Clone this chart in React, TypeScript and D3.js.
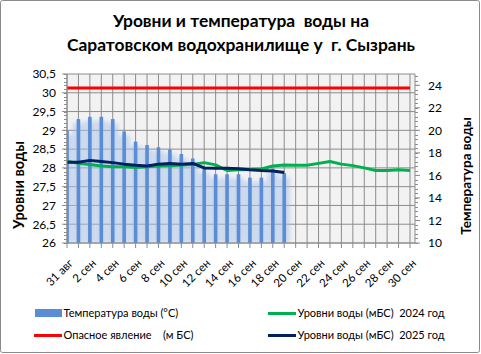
import React from "react";
import * as d3 from "d3";

const categories: string[] = [
  "31 авг", "1 сен", "2 сен", "3 сен", "4 сен", "5 сен", "6 сен", "7 сен", "8 сен", "9 сен",
  "10 сен", "11 сен", "12 сен", "13 сен", "14 сен", "15 сен", "16 сен", "17 сен", "18 сен", "19 сен",
  "20 сен", "21 сен", "22 сен", "23 сен", "24 сен", "25 сен", "26 сен", "27 сен", "28 сен", "29 сен", "30 сен",
];

const temperature: number[] = [
  20.0, 21.0, 21.2, 21.2, 21.0, 19.9, 19.0, 18.7, 18.5, 18.3,
  17.9, 17.5, 16.6, 16.1, 16.1, 16.1, 15.8, 15.8, 16.6, 16.2,
];

const level2024: number[] = [
  28.18, 28.12, 28.09, 28.05, 28.03, 28.03, 28.01, 28.03, 28.05, 28.06,
  28.08, 28.09, 28.14, 28.08, 27.93, 27.95, 27.96, 27.97, 28.05, 28.08,
  28.07, 28.07, 28.12, 28.17, 28.10, 28.06, 28.00, 27.93, 27.93, 27.95, 27.93,
];

const level2025: number[] = [
  28.15, 28.15, 28.20, 28.17, 28.14, 28.10, 28.07, 28.05, 28.10, 28.12,
  28.10, 28.12, 28.00, 27.99, 27.99, 27.98, 27.95, 27.93, 27.92, 27.88,
];

const dangerLevel: number[] = categories.map(() => 30.13);

const leftTicks: number[] = [26, 26.5, 27, 27.5, 28, 28.5, 29, 29.5, 30, 30.5];
const rightTicks: number[] = [10, 12, 14, 16, 18, 20, 22, 24];

const titleLines: string[] = [
  "Уровни и температура  воды на",
  "Саратовском водохранилище у  г. Сызрань",
];
const leftTitle = "Уровни воды";
const rightTitle = "Температура воды";
const legendLabels: string[] = [
  "Температура воды (°С)",
  "Опасное явление    (м БС)",
  "Уровни воды (мБС)  2024 год",
  "Уровни воды (мБС)  2025 год",
];

const FONT = "Lato, 'Open Sans', sans-serif";
const BAR = "#5A8DD6";
const GREEN = "#00B050";
const NAVY = "#002060";
const RED = "#FF0000";
const GRID = "#8C8C8C";

export default function App() {
  const W = 481, H = 354;
  const left = 67, right = 415, top = 74, bottom = 243;
  const x = d3.scalePoint<string>().domain(categories).range([left, 410]);
  const yL = d3.scaleLinear().domain([26, 30.5]).range([bottom, top]);
  const yR = d3.scaleLinear().domain([10, 25]).range([bottom, top]);

  const lineL = d3
    .line<number>()
    .x((_, i) => x(categories[i]) as number)
    .y((d) => yL(d))
    .curve(d3.curveLinear);

  const leftMinor = d3.range(26, 30.5001, 0.1);
  const rightMinor = d3.range(10, 25.0001, 0.4);

  return (
    <svg
      width={W}
      height={H}
      style={{ position: "absolute", left: 0, top: 0, display: "block", background: "#fff" }}
      fontFamily={FONT}
    >
      <defs>
        <filter id="glow" x="-200%" y="-20%" width="500%" height="140%">
          <feGaussianBlur stdDeviation="2" />
        </filter>
        <clipPath id="plotClip">
          <rect x={left} y={top - 2} width={right - left} height={bottom - top + 2} />
        </clipPath>
      </defs>
      <rect x={0.5} y={0.5} width={W - 2} height={H - 2} fill="#fff" stroke="#8a8a8a" rx={2} />

      {/* Title */}
      {titleLines.map((t, i) => (
        <text
          key={i}
          x={241}
          y={27 + i * 24}
          textAnchor="middle"
          fontSize={17.4}
          fontWeight={700}
          fill="#000"
          style={{ whiteSpace: "pre" }}
        >
          {t}
        </text>
      ))}

      {/* Plot background */}
      <rect x={left} y={top} width={right - left} height={bottom - top} fill="#F2F2F2" />

      {/* vertical gridlines */}
      {categories.map((c) => (
        <line key={"vg" + c} x1={x(c)} x2={x(c)} y1={top} y2={bottom} stroke={GRID} strokeWidth={1} />
      ))}
      {/* horizontal gridlines */}
      {leftTicks.map((t) => (
        <line key={"hg" + t} x1={left} x2={right} y1={yL(t)} y2={yL(t)} stroke={GRID} strokeWidth={1} />
      ))}

      {/* Bars */}
      <g clipPath="url(#plotClip)">
        {temperature.map((v, i) => {
          const cx = x(categories[i]) as number;
          const yt = yR(v);
          return (
            <g key={"b" + i}>
              <rect
                x={cx - 5.5}
                y={yt + 4}
                width={11}
                height={bottom - yt - 4}
                fill="#A8C1E8"
                opacity={0.6}
                filter="url(#glow)"
              />
              <rect x={cx - 1.8} y={yt} width={3.6} height={bottom - yt} fill={BAR} />
            </g>
          );
        })}
      </g>

      {/* Lines */}
      <path d={lineL(dangerLevel) || ""} fill="none" stroke={RED} strokeWidth={3} />
      <path d={lineL(level2024) || ""} fill="none" stroke={GREEN} strokeWidth={3} strokeLinejoin="round" />
      <path d={lineL(level2025) || ""} fill="none" stroke={NAVY} strokeWidth={3} strokeLinejoin="round" />

      {/* Axes lines */}
      <line x1={left} x2={left} y1={top} y2={bottom + 0.5} stroke={GRID} />
      <line x1={right} x2={right} y1={top} y2={bottom + 0.5} stroke={GRID} />
      <line x1={left} x2={right} y1={bottom} y2={bottom} stroke={GRID} />

      {/* left ticks */}
      {leftMinor.map((t, i) => (
        <line key={"lm" + i} x1={left - 3} x2={left} y1={Math.round(yL(t)) + 0.5} y2={Math.round(yL(t)) + 0.5} stroke={GRID} />
      ))}
      {leftTicks.map((t) => (
        <line key={"lt" + t} x1={left - 5} x2={left} y1={yL(t)} y2={yL(t)} stroke={GRID} />
      ))}
      {leftTicks.map((t) => (
        <text key={"ll" + t} x={56} y={yL(t)} dy="0.36em" textAnchor="end" fontSize={12} fill="#000">
          {String(t).replace(".", ",")}
        </text>
      ))}

      {/* right ticks */}
      {rightMinor.map((t, i) => (
        <line key={"rm" + i} x1={right} x2={right + 3} y1={Math.round(yR(t)) + 0.5} y2={Math.round(yR(t)) + 0.5} stroke={GRID} />
      ))}
      {rightTicks.map((t) => (
        <line key={"rt" + t} x1={right} x2={right + 5} y1={yR(t)} y2={yR(t)} stroke={GRID} />
      ))}
      {rightTicks.map((t) => (
        <text key={"rl" + t} x={428} y={yR(t)} dy="0.36em" textAnchor="start" fontSize={12} fill="#000">
          {t}
        </text>
      ))}

      {/* x ticks */}
      {categories.map((c) => (
        <line key={"xt" + c} x1={x(c)} x2={x(c)} y1={bottom} y2={bottom + 5} stroke={GRID} />
      ))}
      {categories.map((c, i) =>
        i % 2 === 0 ? (
          <text
            key={"xl" + c}
            transform={`translate(${(x(c) as number) + 4},${261}) rotate(-45)`}
            dy="0.35em"
            textAnchor="end"
            fontSize={11.5}
            fill="#000"
          >
            {c}
          </text>
        ) : null
      )}

      {/* Axis titles */}
      <text
        transform={`translate(18.5,185) rotate(-90)`}
        dy="0.35em"
        textAnchor="middle"
        fontSize={14.5}
        fontWeight={700}
        fill="#000"
      >
        {leftTitle}
      </text>
      <text
        transform={`translate(466,176) rotate(-90)`}
        dy="0.35em"
        textAnchor="middle"
        fontSize={13.5}
        fontWeight={700}
        fill="#000"
      >
        {rightTitle}
      </text>

      {/* Legend */}
      <rect x={35} y={309} width={27} height={8} fill={BAR} />
      <text x={63.5} y={313} dy="0.35em" fontSize={11} fill="#000" style={{ whiteSpace: "pre" }}>
        {legendLabels[0]}
      </text>
      <line x1={34} x2={62} y1={335.5} y2={335.5} stroke={RED} strokeWidth={3} />
      <text x={63.5} y={335.5} dy="0.35em" fontSize={11} fill="#000" style={{ whiteSpace: "pre" }}>
        {legendLabels[1]}
      </text>
      <line x1={268} x2={296} y1={313.5} y2={313.5} stroke={GREEN} strokeWidth={3} />
      <text x={297.5} y={313} dy="0.35em" fontSize={11} fill="#000" style={{ whiteSpace: "pre" }}>
        {legendLabels[2]}
      </text>
      <line x1={268} x2={296} y1={335.5} y2={335.5} stroke={NAVY} strokeWidth={3} />
      <text x={297.5} y={335.5} dy="0.35em" fontSize={11} fill="#000" style={{ whiteSpace: "pre" }}>
        {legendLabels[3]}
      </text>
    </svg>
  );
}
